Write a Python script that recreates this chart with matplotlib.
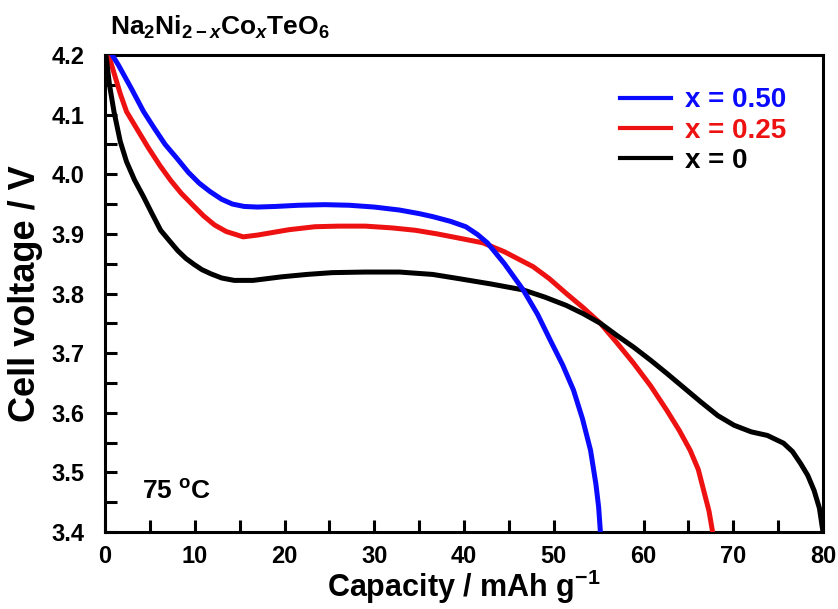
import matplotlib
matplotlib.use("Agg")
import matplotlib.pyplot as plt
from matplotlib.ticker import MultipleLocator

# ---- data ----
cap_050 = [0.8, 1.5, 3.0, 4.3, 5.5, 6.7, 8.0, 9.3, 10.5, 11.7, 13.0, 14.2, 15.5, 17, 19,
           21.6, 24.5, 27.2, 30, 32.8, 35, 36.5, 38.5, 40.2, 41.5, 42.6, 44.5, 46.6, 48.2,
           49.6, 51.0, 52.2, 53.2, 54.1, 54.7, 55.0, 55.2]
volt_050 = [4.2, 4.183, 4.142, 4.105, 4.077, 4.05, 4.027, 4.003, 3.985, 3.971, 3.958, 3.95,
            3.946, 3.945, 3.946, 3.948, 3.949, 3.948, 3.945, 3.94, 3.934, 3.929, 3.921, 3.912,
            3.899, 3.885, 3.85, 3.806, 3.765, 3.722, 3.68, 3.638, 3.59, 3.537, 3.48, 3.442, 3.40]

cap_025 = [0.4, 1.0, 1.7, 2.4, 3.6, 4.8, 6.1, 7.3, 8.5, 9.8, 11.0, 12.2, 13.5, 15.4, 17,
           20.5, 23.4, 26, 29, 32, 34.6, 37, 39.4, 42.1, 44.5, 47.7, 49.5, 51.4, 53.3, 55.2,
           57, 58.9, 60.8, 62.6, 64, 65.2, 66.1, 66.7, 67.3, 67.7]
volt_025 = [4.2, 4.17, 4.135, 4.105, 4.075, 4.045, 4.015, 3.99, 3.968, 3.948, 3.93, 3.915,
            3.904, 3.895, 3.898, 3.907, 3.912, 3.913, 3.913, 3.91, 3.906, 3.9, 3.893, 3.885,
            3.87, 3.845, 3.825, 3.80, 3.776, 3.75, 3.718, 3.683, 3.645, 3.604, 3.57, 3.537,
            3.505, 3.47, 3.435, 3.40]

cap_000 = [0.1, 0.5, 1.0, 1.7, 2.4, 3.3, 4.3, 5.2, 6.2, 7.2, 8.1, 9.0, 9.9, 10.8, 11.8, 13.0,
           14.4, 16.5, 19.7, 22.5, 25.3, 29, 32.8, 36.5, 39.4, 43, 46.6, 49, 51.4, 53.3, 55.2,
           57, 58.9, 60.8, 62.6, 64.5, 66.4, 68.3, 70.1, 72, 73.8, 75.6, 76.6, 77.5, 78.3,
           79, 79.6, 80]
volt_000 = [4.2, 4.15, 4.105, 4.055, 4.021, 3.99, 3.962, 3.935, 3.906, 3.888, 3.872, 3.859,
            3.849, 3.84, 3.833, 3.826, 3.822, 3.822, 3.828, 3.832, 3.835, 3.836, 3.836, 3.832,
            3.825, 3.816, 3.806, 3.794, 3.78, 3.766, 3.75, 3.73, 3.71, 3.688, 3.666, 3.642,
            3.618, 3.595, 3.579, 3.568, 3.562, 3.549, 3.535, 3.515, 3.495, 3.47, 3.44, 3.40]

labels = ["x = 0.50", "x = 0.25", "x = 0"]
colors = ["#0a0aff", "#ee1111", "#000000"]

plt.rcParams['font.family'] = ['Liberation Sans', 'DejaVu Sans']
plt.rcParams['font.weight'] = 'bold'
plt.rcParams['mathtext.fontset'] = 'custom'
plt.rcParams['mathtext.rm'] = 'Liberation Sans:bold'
plt.rcParams['mathtext.it'] = 'Liberation Sans:bold:italic'
plt.rcParams['mathtext.bf'] = 'Liberation Sans:bold'

fig = plt.figure(figsize=(8.38, 6.09), dpi=100)
ax = fig.add_axes([0.1253, 0.1264, 0.8568, 0.7833])

lw = 3.6
l_red, = ax.plot(cap_025, volt_025, color=colors[1], lw=lw, label=labels[1], zorder=3)
l_blk, = ax.plot(cap_000, volt_000, color=colors[2], lw=lw, label=labels[2], zorder=4)
l_blu, = ax.plot(cap_050, volt_050, color=colors[0], lw=lw, label=labels[0], zorder=5)

ax.set_xlim(0, 80)
ax.set_ylim(3.4, 4.2)
ax.xaxis.set_major_locator(MultipleLocator(10))
ax.xaxis.set_minor_locator(MultipleLocator(5))
ax.yaxis.set_major_locator(MultipleLocator(0.1))
ax.yaxis.set_minor_locator(MultipleLocator(0.05))
ax.yaxis.set_major_formatter(plt.FormatStrFormatter('%.1f'))

for s in ax.spines.values():
    s.set_linewidth(2.2)
ax.tick_params(which='both', direction='in', length=8.5, width=2.2,
               top=False, right=False)
ax.tick_params(axis='y', which='major', labelsize=17, pad=15)
ax.tick_params(axis='x', which='major', labelsize=17, pad=9)
for t in ax.get_xticklabels() + ax.get_yticklabels():
    t.set_fontweight('bold')

ax.set_xlabel(r'Capacity / mAh g$^{\mathrm{-1}}$', fontsize=22, fontweight='bold', labelpad=0)
ax.set_ylabel('Cell voltage / V', fontsize=26, fontweight='bold', labelpad=6)

leg = ax.legend(handles=[l_blu, l_red, l_blk], loc='upper left',
                bbox_to_anchor=(0.717, 0.932), frameon=False, fontsize=20,
                handlelength=1.85, handletextpad=0.5, labelspacing=0.15,
                borderpad=0, borderaxespad=0, labelcolor='linecolor')
for h in leg.get_lines():
    h.set_linewidth(3.0)
for t in leg.get_texts():
    t.set_fontweight('bold')

ax.text(0.052, 0.085, r'75 $^{\mathrm{o}}$C', transform=ax.transAxes,
        fontsize=19, fontweight='bold', ha='left', va='center')

fig.text(110 / 838, 1 - 27 / 609, r'Na$_{\mathrm{2}}$Ni$_{\mathrm{2-}x}$Co$_x$TeO$_{\mathrm{6}}$',
         fontsize=19, fontweight='bold', ha='left', va='center')

fig.savefig('out.png', dpi=100)
